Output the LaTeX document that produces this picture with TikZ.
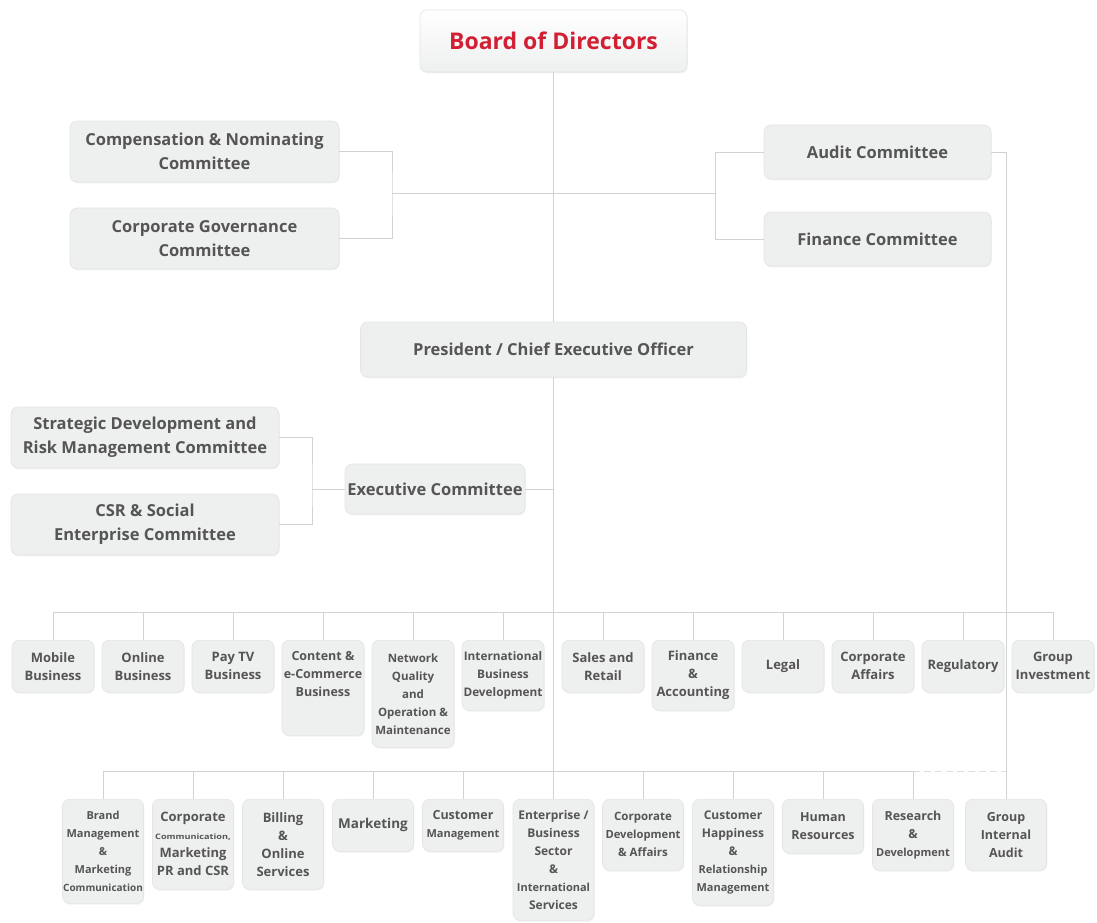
\documentclass[tikz,border=0pt]{standalone}
\usepackage{graphicx}
\usepackage{fontspec}
\setmainfont{Open Sans}
\usetikzlibrary{backgrounds,shadows}
\definecolor{boxfill}{HTML}{EEEFEF}
\definecolor{boxline}{HTML}{E3E4E4}
\definecolor{linec}{HTML}{D2D2D2}
\definecolor{dashc}{HTML}{DEDEDE}
\definecolor{txt}{HTML}{555555}
\definecolor{bodred}{HTML}{D21F33}
\newcommand{\fs}[1]{\fontsize{#1}{18}\selectfont}
\begin{document}
\begin{tikzpicture}[x=1pt,y=-1pt,
  box/.style={rounded corners=7pt, fill=boxfill, draw=boxline, line width=0.6pt,
    inner sep=0pt, align=center, text=txt,
    drop shadow={opacity=0.10, shadow xshift=0.8pt, shadow yshift=-1.4pt}},
  big/.style={box, font=\bfseries\fontsize{16.5}{24}\selectfont},
  up/.style={box, font=\bfseries\fs{13}, minimum width=82pt, anchor=north},
  lo/.style={box, font=\bfseries\fs{13}, minimum width=81pt, anchor=north},
  conn/.style={draw=linec, line width=1pt}]
\useasboundingbox (0,0) rectangle (1097,922);

% top level
\node[box, minimum width=267pt, minimum height=62pt, top color=white, bottom color=boxfill,
  font=\bfseries\fontsize{23}{28}\selectfont, text=bodred] (board) at (553.5,41) {Board of Directors};
\node[big, minimum width=269pt, minimum height=61pt] (comp) at (204.5,151.5) {Compensation \& Nominating\\Committee};
\node[big, minimum width=269pt, minimum height=61pt] (gov) at (204.5,238.5) {Corporate Governance\\Committee};
\node[big, minimum width=227pt, minimum height=54pt] (audit) at (877.5,152) {Audit Committee};
\node[big, minimum width=227pt, minimum height=54pt] (fin) at (877.5,239) {Finance Committee};
\node[big, minimum width=386pt, minimum height=55pt] (ceo) at (553.5,349.5) {President / Chief Executive Officer};
\node[big, minimum width=268pt, minimum height=61pt] (strat) at (145,437.5) {Strategic Development and\\Risk Management Committee};
\node[big, minimum width=268pt, minimum height=61pt] (csr) at (145,524.5) {CSR \& Social\\Enterprise Committee};
\node[big, minimum width=180pt, minimum height=50pt] (exec) at (435,489) {Executive Committee};

% upper row
\node[up, minimum height=52pt] (mob) at (53,640) {Mobile\\Business};
\node[up, minimum height=52pt] (onl) at (143,640) {Online\\Business};
\node[up, minimum height=52pt] (ptv) at (233,640) {Pay TV\\Business};
\node[up, minimum height=95pt] (cont) at (323,640) {\fs{12.5}Content \&\\\fs{12.5}e-Commerce\\\fs{12.5}Business\\[9pt]\mbox{}};
\node[up, minimum height=107pt] (net) at (413,640) {\fs{11.5}Network\\\fs{11.5}Quality\\\fs{11.5}and\\\fs{11.5}Operation \&\\\fs{11.5}Maintenance};
\node[up, minimum height=70pt] (intl) at (503,640) {\fs{11.8}International\\\fs{11.8}Business\\\fs{11.8}Development};
\node[up, minimum height=52pt] (sal) at (603,640) {Sales and\\Retail};
\node[up, minimum height=70pt] (fina) at (693,640) {Finance\\\&\\Accounting};
\node[up, minimum height=52pt] (leg) at (783,640) {Legal};
\node[up, minimum height=52pt] (caff) at (873,640) {Corporate\\Affairs};
\node[up, minimum height=52pt] (reg) at (963,640) {Regulatory};
\node[up, minimum height=52pt] (ginv) at (1053,640) {Group\\Investment};

% lower row
\node[lo, minimum height=104pt] (brand) at (103,799) {\fs{11}Brand\\\fs{11}Management\\\fs{11}\&\\\fs{11}Marketing\\\fs{10}Communication};
\node[lo, minimum height=90pt] (ccom) at (193,799) {Corporate\\\scalebox{1.22}[1]{\fs{7.5}Communication,}\\Marketing\\PR and CSR};
\node[lo, minimum height=90pt] (bill) at (283,799) {Billing\\\&\\Online\\Services};
\node[lo, minimum height=52pt] (mkt) at (373,799) {\fs{13.5}Marketing};
\node[lo, minimum height=52pt] (cusm) at (463,799) {\fs{12.5}Customer\\\fs{11}Management};
\node[lo, minimum height=121pt] (ent) at (553.5,799) {\fs{12}Enterprise /\\\fs{12}Business\\\fs{12}Sector\\\fs{12}\&\\\fs{11}International\\\fs{12}Services};
\node[lo, minimum height=71pt] (cdev) at (643,799) {\fs{11.5}Corporate\\\fs{11.2}Development\\\fs{11.5}\& Affairs};
\node[lo, minimum height=106pt] (cush) at (733,799) {\fs{12}Customer\\\fs{12}Happiness\\\fs{12}\&\\\fs{11}Relationship\\\fs{11}Management};
\node[lo, minimum height=54pt] (hr) at (823,799) {\fs{12.5}Human\\\fs{12.5}Resources};
\node[lo, minimum height=71pt] (rnd) at (913,799) {\fs{12.5}Research\\\fs{12.5}\&\\\fs{11}Development};
\node[lo, minimum height=71pt] (gia) at (1006,799) {\fs{12.5}Group\\\fs{12.5}Internal\\\fs{12.5}Audit};

\coordinate (lbr) at (392,193);
\coordinate (rbr) at (715,193);
\coordinate (ebr) at (312,489);
\coordinate (ubus) at (0,612);
\coordinate (lbus) at (0,771);

\begin{scope}[on background layer]
\fill[white] (0,0) rectangle (1097,922);
\draw[conn] (board.south) -- (ent.north);
\draw[conn] (comp.east) -| (lbr) |- (gov.east);
\draw[conn] (lbr) -- (rbr);
\draw[conn] (audit.west) -| (rbr) |- (fin.west);
\draw[conn] (audit.east) -| (gia.north);
\draw[conn] (strat.east) -| (ebr) |- (csr.east);
\draw[conn] (ebr) -- (exec.west);
\draw[conn] (exec.east) -- (exec.east -| board.south);
\draw[conn] (mob.north |- ubus) -- (ginv.north |- ubus);
\foreach \n in {mob,onl,ptv,cont,net,intl,sal,fina,leg,caff,reg,ginv}
  \draw[conn] (\n.north) -- (\n.north |- ubus);
\draw[conn] (brand.north |- lbus) -- (rnd.north |- lbus);
\draw[conn, draw=dashc, dash pattern=on 7pt off 4pt] (rnd.north |- lbus) -- (gia.north |- lbus);
\foreach \n in {brand,ccom,bill,mkt,cusm,cdev,cush,hr,rnd}
  \draw[conn] (\n.north) -- (\n.north |- lbus);
\end{scope}
\end{tikzpicture}
\end{document}
